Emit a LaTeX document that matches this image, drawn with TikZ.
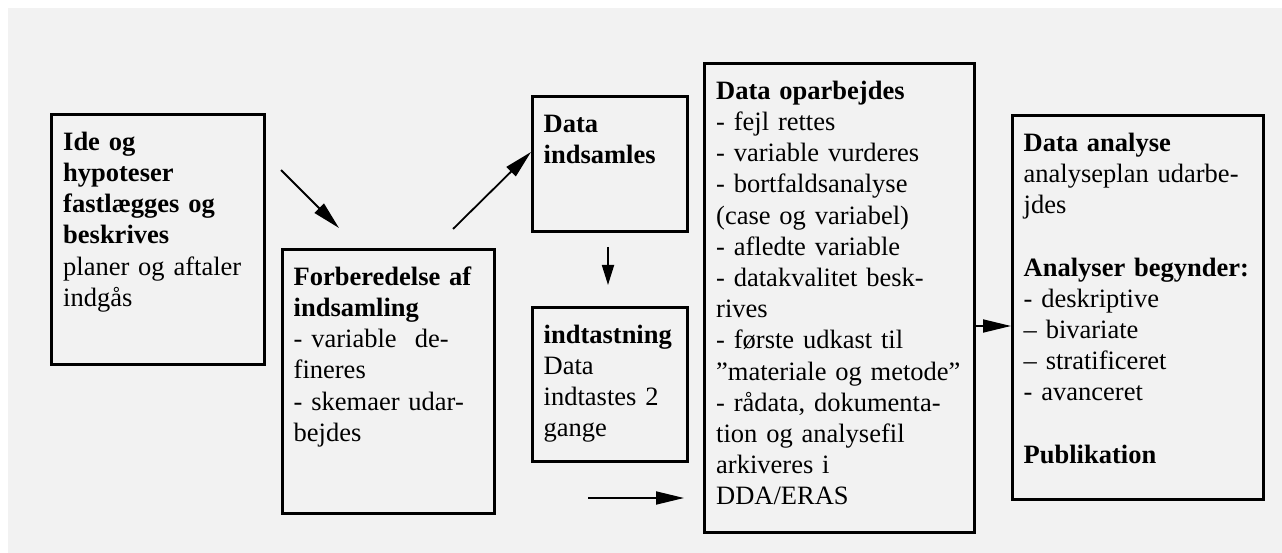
\documentclass[tikz,border=0pt]{standalone}
\usepackage{fontspec}
\setmainfont{Liberation Serif}
\usetikzlibrary{arrows.meta}
\definecolor{panel}{HTML}{F2F2F2}
\tikzset{
  stage/.style={rectangle, draw=black, line width=2.7pt, fill=panel,
    inner sep=0pt, anchor=north west},
  stagetext/.style={anchor=north west, inner sep=0pt, align=left,
    font=\fontsize{26.5pt}{31.2pt}\selectfont},
  flow/.style={line width=1.8pt, -{Triangle[length=28pt,width=13pt]}},
  shortflow/.style={line width=1.8pt, -{Triangle[length=20pt,width=12pt]}},
}
\begin{document}
\begin{tikzpicture}[x=1pt,y=-1pt]
\useasboundingbox (0,0) rectangle (1282,553);
\fill[white] (0,0) rectangle (1282,553);
\fill[panel] (8,8) rectangle (1282,553);

% stage boxes
\node[stage, minimum width=213pt, minimum height=250pt] (b1) at (50,113) {};
\node[stage, minimum width=212pt, minimum height=264pt] (b2) at (281,248) {};
\node[stage, minimum width=155pt, minimum height=135pt] (b3) at (531,95) {};
\node[stage, minimum width=155pt, minimum height=154pt] (b4) at (531,306) {};
\node[stage, minimum width=270pt, minimum height=469pt] (b5) at (703,62) {};
\node[stage, minimum width=251pt, minimum height=384pt] (b6) at (1011,114) {};

% texts inside the boxes
\node[stagetext, text width=200pt] (t1) at ([shift={(13,15.2)}]b1.north west)
  {\strut{\bfseries Ide og\\hypoteser\\fastlægges og\\beskrives}\\
   planer og aftaler\\indgås};
\node[stagetext, text width=200pt] (t2) at ([shift={(12.5,15.2)}]b2.north west)
  {\strut{\bfseries Forberedelse af\\indsamling}\\
   \makebox[155pt][l]{- variable\hfill de-}\\fineres\\- skemaer udar-\\bejdes};
\node[stagetext, text width=145pt] (t3) at ([shift={(12.5,15.2)}]b3.north west)
  {\strut{\bfseries Data\\indsamles}};
\node[stagetext, text width=145pt] (t4) at ([shift={(12.5,15.2)}]b4.north west)
  {\strut{\bfseries indtastning}\\Data\\indtastes 2\\gange};
\node[stagetext, text width=255pt] (t5) at ([shift={(13,15.2)}]b5.north west)
  {\strut{\bfseries Data oparbejdes}\\
   - fejl rettes\\
   - variable vurderes\\
   - bortfaldsanalyse\\
   (case og variabel)\\
   - afledte variable\\
   - datakvalitet besk-\\
   rives\\
   - første udkast til\\
   ”materiale og metode”\\
   - rådata, dokumenta-\\
   tion og analysefil\\
   arkiveres i\\
   DDA/ERAS};
\node[stagetext, text width=240pt] (t6) at ([shift={(12.5,15.2)}]b6.north west)
  {\strut{\bfseries Data analyse}\\
   analyseplan udarbe-\\
   jdes\\[31.2pt]
   {\bfseries Analyser begynder:}\\
   - deskriptive\\
   -- bivariate\\
   -- stratificeret\\
   - avanceret\\[31.2pt]
   {\bfseries Publikation}};

% free ends of the arrows
\coordinate (a1s) at (281,170);
\coordinate (a1e) at (339,228);
\coordinate (a2s) at (453,229);
\coordinate (a3s) at (608,247);
\coordinate (a3e) at (608,285);
\coordinate (a4s) at (588,498);
\coordinate (a4e) at (684,498);

% arrows
\draw[flow] (a1s) -- (a1e);
\draw[flow] (a2s) -- (b3.west |- 0,152);
\draw[shortflow] (a3s) -- (a3e);
\draw[flow] (a4s) -- (a4e);
\draw[flow] (b5.east |- 0,326) -- (b6.west |- 0,326);
\end{tikzpicture}
\end{document}
